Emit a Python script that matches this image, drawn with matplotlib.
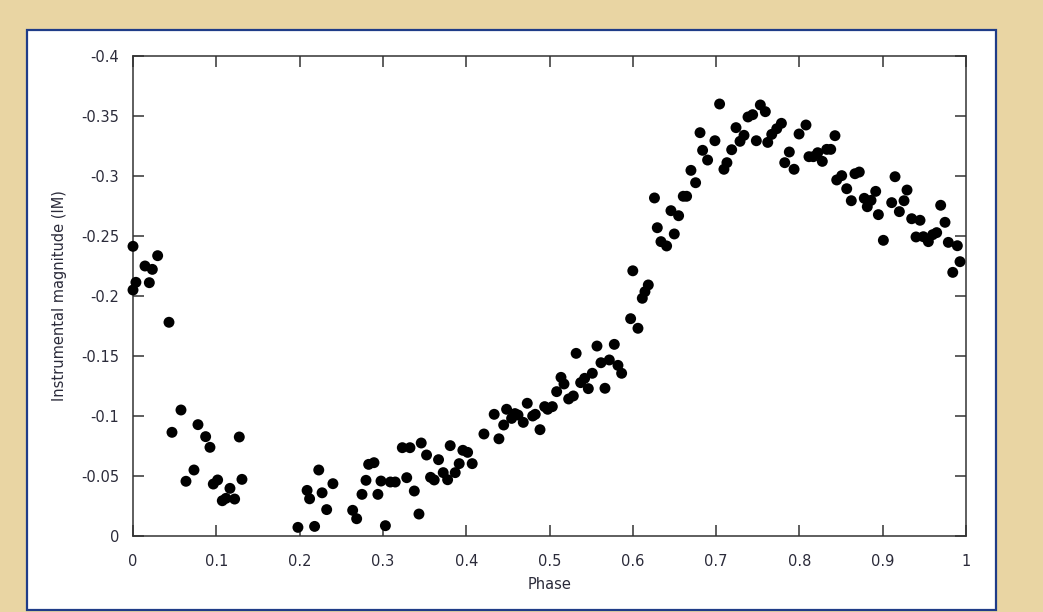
import matplotlib.pyplot as plt
from matplotlib.patches import Rectangle

# phase / instrumental magnitude
phase = [
    0.000, 0.000, 0.0035, 0.0144, 0.0196, 0.0232, 0.0296, 0.0432, 0.0468, 0.0576,
    0.0636, 0.0732, 0.0780, 0.0872, 0.0924, 0.0964, 0.1016, 0.1072, 0.1116, 0.1164,
    0.1220, 0.1276, 0.1308,
    0.198, 0.209, 0.212, 0.218, 0.223, 0.227, 0.2325, 0.240, 0.2637, 0.2685,
    0.2749, 0.2797, 0.2829, 0.2893, 0.294, 0.2977, 0.303, 0.309, 0.3148, 0.3233,
    0.3286, 0.3325, 0.3377, 0.3433, 0.346, 0.3524, 0.3572, 0.3616, 0.3668, 0.3724,
    0.3777, 0.3808, 0.3868, 0.3916, 0.396, 0.4017, 0.4072,
    0.4213, 0.4336, 0.4393, 0.445, 0.4485, 0.4545, 0.4585, 0.4622, 0.4685, 0.4733,
    0.4798, 0.4829, 0.4886, 0.4942, 0.4978, 0.5034, 0.5086, 0.5138, 0.5174, 0.523,
    0.5286, 0.532, 0.5374, 0.5422, 0.5466, 0.5514, 0.557, 0.5618, 0.5666, 0.5718,
    0.5778, 0.5822, 0.5866, 0.5974, 0.600, 0.6062, 0.6114, 0.6146, 0.6186,
    0.626, 0.6294, 0.6338, 0.6406, 0.6458, 0.6498, 0.655, 0.6606, 0.6646, 0.6698,
    0.6754, 0.6807, 0.6838, 0.6898, 0.6986, 0.7042, 0.7094, 0.713, 0.7187, 0.7239,
    0.7287, 0.7335, 0.7383, 0.7439, 0.7483, 0.7531, 0.7591, 0.762, 0.7668, 0.7728,
    0.7784, 0.7824, 0.7879, 0.7936, 0.7996, 0.8079, 0.8115, 0.8167, 0.822, 0.8275,
    0.8328, 0.8376, 0.8427, 0.8448, 0.8508, 0.8568, 0.8623, 0.8667, 0.8719, 0.8779,
    0.8815, 0.886, 0.8916, 0.8948, 0.9008, 0.9108, 0.9148, 0.920, 0.9256, 0.9292,
    0.9348, 0.940, 0.9448, 0.9488, 0.9548, 0.960, 0.9648, 0.9696, 0.9748, 0.9788,
    0.9841, 0.9896, 0.9928,
]
magnitude = [
    -0.2414, -0.205, -0.2114, -0.225, -0.2111, -0.2222, -0.2336, -0.1781, -0.0864, -0.105,
    -0.0456, -0.055, -0.0928, -0.0828, -0.0739, -0.0433, -0.0467, -0.0294, -0.0314, -0.0397,
    -0.0308, -0.0825, -0.0472,
    -0.0072, -0.038, -0.031, -0.008, -0.055, -0.036, -0.022, -0.0436, -0.0214, -0.0144,
    -0.0347, -0.0464, -0.0597, -0.0611, -0.0347, -0.0458, -0.0086, -0.045, -0.045, -0.0736,
    -0.0486, -0.0736, -0.0375, -0.0183, -0.0775, -0.0675, -0.0489, -0.0467, -0.0636, -0.0528,
    -0.0469, -0.0753, -0.0528, -0.0603, -0.0714, -0.0697, -0.0603,
    -0.085, -0.1014, -0.081, -0.0925, -0.1056, -0.098, -0.102, -0.1008, -0.0947, -0.1106,
    -0.100, -0.1014, -0.0886, -0.1078, -0.1056, -0.1078, -0.1203, -0.1322, -0.1267, -0.1142,
    -0.1167, -0.1522, -0.1278, -0.1314, -0.1228, -0.1356, -0.1583, -0.1444, -0.1231, -0.1467,
    -0.1597, -0.1422, -0.1356, -0.1811, -0.221, -0.1731, -0.1981, -0.2036, -0.2092,
    -0.2817, -0.2569, -0.2453, -0.2417, -0.2711, -0.2517, -0.2669, -0.2831, -0.2831, -0.3047,
    -0.2944, -0.3361, -0.3214, -0.3133, -0.3294, -0.360, -0.3056, -0.3111, -0.3219, -0.3403,
    -0.3289, -0.3339, -0.3492, -0.3511, -0.3294, -0.3592, -0.3536, -0.328, -0.3347, -0.3394,
    -0.3439, -0.3111, -0.320, -0.3056, -0.335, -0.3425, -0.3161, -0.3161, -0.3194, -0.3122,
    -0.3222, -0.3222, -0.3336, -0.2967, -0.3003, -0.2894, -0.2794, -0.3019, -0.3033, -0.2814,
    -0.2744, -0.2797, -0.2872, -0.2678, -0.2464, -0.2778, -0.2994, -0.2703, -0.2794, -0.2883,
    -0.2644, -0.2492, -0.2631, -0.2494, -0.2453, -0.2511, -0.2528, -0.2756, -0.2614, -0.2447,
    -0.2197, -0.2419, -0.2286,
]

x_ticks = [0, 0.1, 0.2, 0.3, 0.4, 0.5, 0.6, 0.7, 0.8, 0.9, 1]
x_labels = ['0', '0.1', '0.2', '0.3', '0.4', '0.5', '0.6', '0.7', '0.8', '0.9', '1']
y_ticks = [0, -0.05, -0.1, -0.15, -0.2, -0.25, -0.3, -0.35, -0.4]
y_labels = ['0', '-0.05', '-0.1', '-0.15', '-0.2', '-0.25', '-0.3', '-0.35', '-0.4']

text_color = '#2b2b3a'
axis_color = '#333333'

fig = plt.figure(figsize=(10.43, 6.12), dpi=100)
fig.patch.set_facecolor('#e9d5a3')

# white slide panel with a blue border
fig.patches.append(Rectangle((27 / 1043, 1 - 610 / 612), 969 / 1043, 580 / 612,
                             transform=fig.transFigure, facecolor='white',
                             edgecolor='#1f3c88', linewidth=1.6, zorder=-10))

ax = fig.add_axes([133 / 1043, 1 - 536 / 612, 833 / 1043, 480 / 612])
ax.set_zorder(5)
ax.set_facecolor('white')
ax.scatter(phase, magnitude, s=62, color='black', edgecolors='none', zorder=3, clip_on=False)

ax.set_xlim(0, 1)
ax.set_ylim(0, -0.4)
ax.set_xticks(x_ticks)
ax.set_xticklabels(x_labels)
ax.set_yticks(y_ticks)
ax.set_yticklabels(y_labels)

for side in ax.spines.values():
    side.set_color(axis_color)
    side.set_linewidth(1.1)

ax.tick_params(axis='both', direction='in', length=8, width=1.1, color=axis_color,
               top=True, right=True, labelsize=10.5, labelcolor=text_color)
ax.tick_params(axis='x', pad=13)
ax.tick_params(axis='y', pad=10)

ax.set_xlabel('Phase', fontsize=10.5, color=text_color, labelpad=6)
ax.set_ylabel('Instrumental magnitude (IM)', fontsize=10.5, color=text_color, labelpad=10)

fig.savefig('out.png', dpi=100, facecolor=fig.get_facecolor())
